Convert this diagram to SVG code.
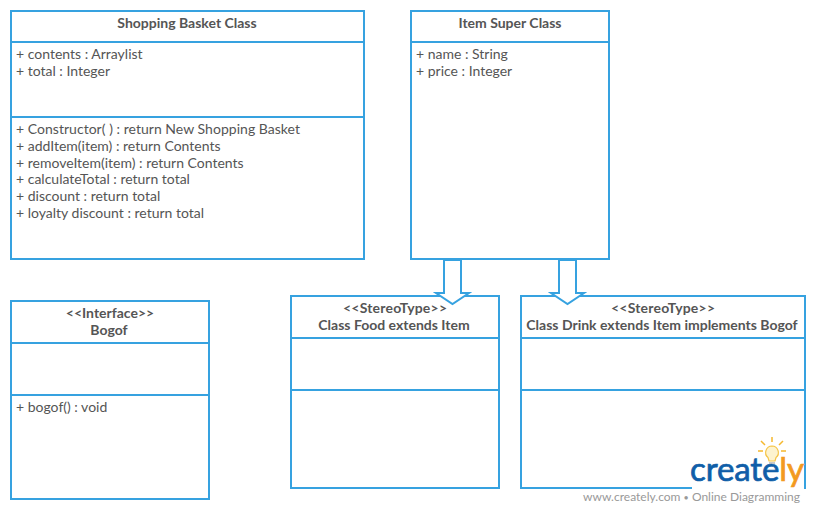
<svg xmlns="http://www.w3.org/2000/svg" width="815" height="510" viewBox="0 0 815 510">
<style>
.box{fill:#fff;stroke:#36a2e0;stroke-width:2}
.line{fill:none;stroke:#36a2e0;stroke-width:2}
.arrow{fill:#fff;stroke:#36a2e0;stroke-width:2;stroke-linejoin:miter}
text{font-family:Lato,"Open Sans","Liberation Sans",sans-serif;font-size:14px;fill:#555}
.title{font-weight:700;text-anchor:middle}
</style>
<rect width="815" height="510" fill="#fff"/>
<g id="shopping-basket">
<rect class="box" x="11" y="11" width="353" height="248"/>
<path class="line" d="M11 42H364M11 117H364"/>
<text class="title" x="187" y="28">Shopping Basket Class</text>
<text x="16" y="59">+ contents : Arraylist</text>
<text x="16" y="76">+ total : Integer</text>
<text x="16" y="134" textLength="284">+ Constructor( ) : return New Shopping Basket</text>
<text x="16" y="151">+ addItem(item) : return Contents</text>
<text x="16" y="168">+ removeItem(item) : return Contents</text>
<text x="16" y="184">+ calculateTotal : return total</text>
<text x="16" y="201">+ discount : return total</text>
<text x="16" y="218">+ loyalty discount : return total</text>
</g>
<g id="item-super">
<rect class="box" x="411" y="11" width="198" height="248"/>
<path class="line" d="M411 42H609"/>
<text class="title" x="510" y="28">Item Super Class</text>
<text x="416" y="59">+ name : String</text>
<text x="416" y="76">+ price : Integer</text>
</g>
<g id="bogof">
<rect class="box" x="11" y="301" width="198" height="198"/>
<path class="line" d="M11 343H209M11 395H209"/>
<text class="title" x="110" y="318">&lt;&lt;Interface&gt;&gt;</text>
<text class="title" x="109" y="335">Bogof</text>
<text x="16" y="412">+ bogof() : void</text>
</g>
<g id="food">
<rect class="box" x="291" y="296" width="208" height="192"/>
<path class="line" d="M291 338H499M291 390H499"/>
</g>
<g id="drink">
<rect class="box" x="521" y="296" width="284" height="192"/>
<path class="line" d="M521 338H805M521 390H805"/>
</g>
<g id="connectors">
<path class="arrow" d="M444 260H461V293H469L452.500 304L436 293H444Z"/>
<path class="arrow" d="M559 260H576V293H584L567.500 304L551 293H559Z"/>
</g>
<g id="food-labels">
<text class="title" x="395" y="313" textLength="104">&lt;&lt;StereoType&gt;&gt;</text>
<text class="title" x="394" y="330">Class Food extends Item</text>
</g>
<g id="drink-labels">
<text class="title" x="663" y="313" textLength="104">&lt;&lt;StereoType&gt;&gt;</text>
<text class="title" x="662" y="330">Class Drink extends Item implements Bogof</text>
</g>
<g id="watermark">
<rect x="692" y="436" width="112" height="54" fill="#fff"/>
<rect x="583" y="489" width="232" height="21" fill="#fff"/>
<path d="M772 446a6.500 6.500 0 0 1 4 11.500l-1 3.500h-6l-1-3.500a6.500 6.500 0 0 1 4-11.500Z" fill="#fdf3cf" stroke="#f5c445" stroke-width="1.200"/>
<path d="M769 463h6" stroke="#c9c9c9" stroke-width="2"/>
<path d="M772 437v5M761 441l4 4M783 441l-4 4M758 451h5M781 451h5" stroke="#f5b82e" stroke-width="1.500" fill="none"/>
<text x="690" y="481" textLength="114" style="font-size:33px;fill:#0f5ea8;stroke:#0f5ea8;stroke-width:.7">create<tspan style="fill:#f39a1f;stroke:#f39a1f">ly</tspan></text>
<text x="583" y="501" textLength="217" style="font-size:12px;fill:#999">www.creately.com <tspan style="font-size:9px">•</tspan> Online Diagramming</text>
</g>
</svg>
